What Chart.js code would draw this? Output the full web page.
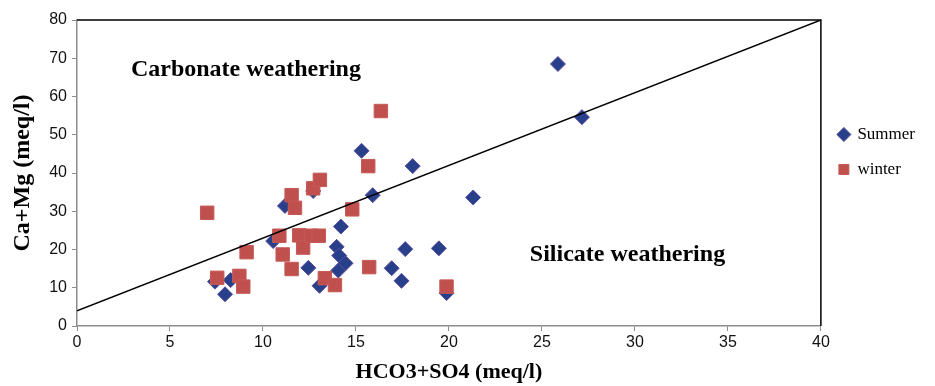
<!DOCTYPE html>
<html>
<head>
<meta charset="utf-8">
<script src="https://cdn.jsdelivr.net/npm/chart.js@4.4.1/dist/chart.umd.min.js"></script>
<style>
  html, body { margin: 0; padding: 0; background: #fff; }
  #wrap { width: 935px; height: 386px; position: relative; }
</style>
</head>
<body>
<div id="wrap"><canvas id="chart"></canvas></div>
<script>
const summerX = [7.42, 8.26, 7.96, 10.55, 11.18, 12.7, 14.19, 13.96, 14.1, 14.44, 14.05, 12.44, 13.04, 15.9, 15.3, 18.05, 21.3, 17.65, 19.46, 16.92, 17.45, 19.87, 25.86, 27.15];
const summerY = [11.6, 12.0, 8.3, 22.2, 31.4, 35.3, 26.0, 20.7, 18.4, 16.4, 14.5, 15.2, 10.5, 34.2, 45.8, 41.8, 33.6, 20.1, 20.3, 15.1, 11.8, 8.6, 68.5, 54.6];

const winterX = [7.0, 7.54, 8.73, 8.94, 9.12, 10.88, 11.06, 11.54, 11.54, 11.72, 12.7, 13.06, 11.95, 12.16, 12.6, 13.0, 13.33, 13.87, 14.8, 15.71, 15.66, 16.34, 19.87];
const winterY = [29.6, 12.6, 13.1, 10.3, 19.3, 23.6, 18.7, 14.9, 34.2, 30.9, 36.0, 38.2, 23.7, 20.5, 23.6, 23.6, 12.5, 10.7, 30.5, 15.4, 41.8, 56.2, 10.3];

// dividing line between the two weathering fields
const lineX = [0, 40];
const lineY = [4, 80];

const xTicks = [0, 5, 10, 15, 20, 25, 30, 35, 40];
const yTicks = [0, 10, 20, 30, 40, 50, 60, 70, 80];

const labels = [
  { text: "Carbonate weathering", x: 2.9, y: 66.9 },
  { text: "Silicate weathering", x: 24.35, y: 18.6 }
];

const toPoints = (xs, ys) => xs.map((x, i) => ({ x, y: ys[i] }));

const serif = "'Liberation Serif', 'Times New Roman', serif";
const sans = "'Liberation Sans', Arial, sans-serif";

const frameAndText = {
  id: "frameAndText",
  afterDatasetsDraw(chart) {
    const { ctx, chartArea, scales } = chart;
    ctx.save();
    ctx.strokeStyle = "#000";
    ctx.lineWidth = 1.5;
    ctx.beginPath();
    ctx.moveTo(chartArea.left, chartArea.top);
    ctx.lineTo(chartArea.right, chartArea.top);
    ctx.lineTo(chartArea.right, chartArea.bottom);
    ctx.stroke();

    ctx.fillStyle = "#000";
    ctx.font = `bold 24px ${serif}`;
    ctx.textAlign = "left";
    ctx.textBaseline = "middle";
    labels.forEach((label) => {
      ctx.fillText(label.text, scales.x.getPixelForValue(label.x), scales.y.getPixelForValue(label.y));
    });
    ctx.restore();
  }
};

new Chart(document.getElementById("chart"), {
  type: "scatter",
  data: {
    datasets: [
      {
        label: "Summer",
        data: toPoints(summerX, summerY),
        pointStyle: "rectRot",
        pointRadius: 7.5,
        pointHoverRadius: 7.5,
        backgroundColor: "#283f8a",
        borderColor: "#5b4d9e",
        borderWidth: 1,
        order: 2
      },
      {
        label: "winter",
        data: toPoints(winterX, winterY),
        pointStyle: "rect",
        pointRadius: 9.5,
        pointHoverRadius: 9.5,
        backgroundColor: "#c0504d",
        borderColor: "#c65a57",
        borderWidth: 1,
        order: 1
      },
      {
        label: "line",
        type: "line",
        data: toPoints(lineX, lineY),
        borderColor: "#000",
        borderWidth: 1.5,
        pointRadius: 0,
        fill: false,
        order: 0
      }
    ]
  },
  options: {
    responsive: true,
    maintainAspectRatio: false,
    animation: false,
    layout: { padding: { top: 20, right: 10, left: 0, bottom: 0 } },
    plugins: {
      tooltip: { enabled: false },
      legend: {
        position: "right",
        align: "start",
        title: { display: true, text: "", font: { size: 10, lineHeight: 1 }, padding: { top: 78, bottom: 0 } },
        labels: {
          usePointStyle: true,
          boxWidth: 10,
          boxHeight: 10,
          padding: 18,
          color: "#000",
          font: { family: serif, size: 17 },
          filter: (item) => item.text !== "line",
          sort: (a, b) => a.datasetIndex - b.datasetIndex
        }
      }
    },
    scales: {
      x: {
        type: "linear",
        min: 0,
        max: 40,
        afterBuildTicks(scale) { scale.ticks = xTicks.map((value) => ({ value })); },
        afterFit(scale) { scale.height = 60; },
        grid: { drawOnChartArea: false, drawTicks: true, tickLength: 5, color: "#8c8c8c" },
        border: { color: "#8c8c8c", width: 1.5 },
        ticks: { color: "#111", font: { family: sans, size: 16 }, padding: 2, maxRotation: 0 },
        title: { display: true, text: "HCO3+SO4 (meq/l)", color: "#000", font: { family: serif, size: 22, weight: "bold" }, padding: { top: 5, bottom: 0 } }
      },
      y: {
        type: "linear",
        min: 0,
        max: 80,
        afterBuildTicks(scale) { scale.ticks = yTicks.map((value) => ({ value })); },
        afterFit(scale) { scale.width = 77; },
        grid: { drawOnChartArea: false, drawTicks: true, tickLength: 5, color: "#8c8c8c" },
        border: { color: "#8c8c8c", width: 1.5 },
        ticks: { color: "#111", font: { family: sans, size: 16 }, padding: 5 },
        title: { display: true, text: "Ca+Mg (meq/l)", color: "#000", font: { family: serif, size: 24, weight: "bold" }, padding: { top: 8, bottom: 2 } }
      }
    }
  },
  plugins: [frameAndText]
});
</script>
</body>
</html>
